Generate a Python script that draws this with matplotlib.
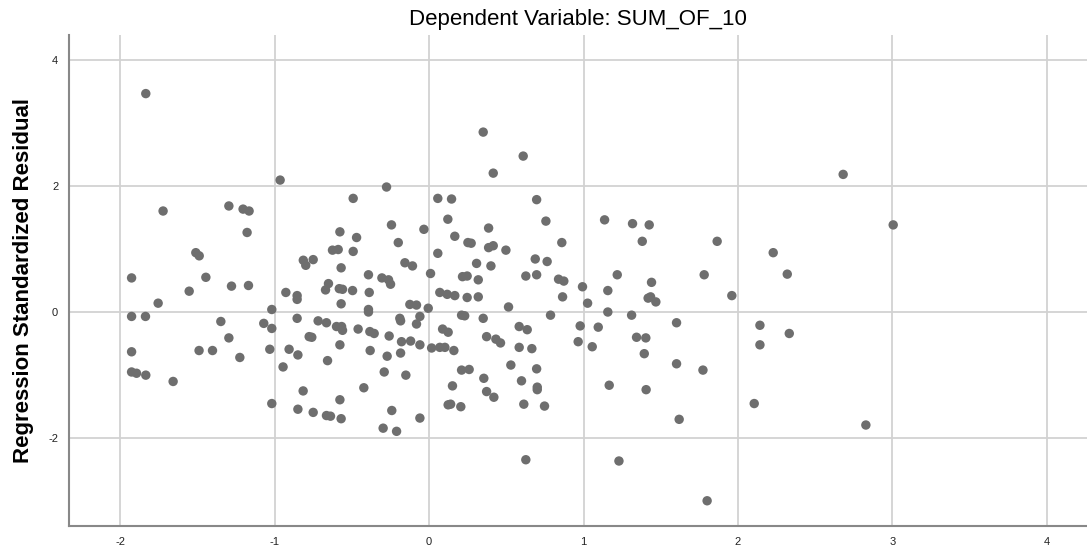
import matplotlib.pyplot as plt

# === Data: predicted (x) vs residual (y) ===
pred_std = [
    -1.835, -0.965, -1.723, -1.297, -1.205, -1.166, -1.179, -1.511, -1.489, -1.927,
    -1.446, -0.815, -0.751, -0.799, -0.626, -0.589, -0.578, -0.570, -1.554, -1.280,
    -1.170, -1.755, -1.927, -1.837, -1.349, -1.297, -1.071, -1.019, -1.019, -0.928,
    -0.855, -0.855, -0.652, -0.671, -0.582, -0.570, -0.855, -0.719, -0.665, -0.600,
    -0.777, -0.578, -1.927, -1.490, -1.403, -1.226, -1.032, -0.907, -0.850, -0.946,
    -0.658, -1.927, -1.895, -1.835, -1.658, -0.816, -1.019, -0.850, -0.751, -0.665,
    -0.639, -0.578, -0.570, -0.561, -0.567, -0.561, -0.760,
    -0.492, -0.276, -0.244, -0.034, -0.470, -0.200, -0.492, -0.157, -0.108, -0.393,
    -0.306, -0.263, -0.250, -0.496, -0.388, -0.393, -0.393, -0.125, -0.082, -0.190,
    -0.060, -0.006, 0.056, 0.145, 0.696, 0.121, 0.756, 1.136, 1.317, 0.385,
    0.166, 0.251, 0.272, 0.385, 0.415, 0.497, 0.859, 1.380, 0.056, 0.687,
    0.764, 0.307, 0.400, 0.009, 0.216, 0.246, 0.318, 0.626, 0.696, 0.838,
    0.872, 1.218, 0.993, 1.157, 0.069, 0.117, 0.166, 0.246, 0.318, 0.864,
    1.026, 0.514, 1.157, 1.311, 0.210, 0.230, 0.350, 0.786, -0.460, -0.384,
    -0.356, -0.259, -0.185, -0.082, -0.382, -0.272, -0.185, -0.179, -0.120, -0.060,
    -0.291, -0.151, -0.423, -0.242, -0.298, -0.211, -0.060, 0.016, 0.069, 0.102,
    0.160, 0.087, 0.123, 0.210, 0.259, 0.151, 0.123, 0.139, 0.205, 0.372,
    0.432, 0.462, 0.354, 0.372, 0.419, 0.529, 0.583, 0.635, 0.583, 0.665,
    0.598, 0.696, 0.700, 0.700, 0.613, 0.747, 0.978, 0.965, 1.095, 1.056,
    1.166, 1.343, 0.626, 0.350, 0.609, 0.415,
    2.681, 1.425, 1.865, 2.228, 1.781, 2.319, 1.440, 1.418, 1.434, 1.468,
    1.960, 1.602, 2.142, 2.332, 1.403, 1.393, 2.142, 1.602, 1.773, 1.405,
    2.105, 1.619, 1.229, 1.800, 3.005, 2.828,
]
resid_std = [
    3.46, 2.09, 1.60, 1.68, 1.63, 1.60, 1.26, 0.94, 0.89, 0.54,
    0.55, 0.82, 0.83, 0.74, 0.98, 0.99, 1.27, 0.70, 0.33, 0.41,
    0.42, 0.14, -0.07, -0.07, -0.15, -0.41, -0.18, -0.26, 0.04, 0.31,
    0.26, 0.20, 0.45, 0.35, 0.37, 0.13, -0.10, -0.14, -0.17, -0.23,
    -0.39, -0.52, -0.63, -0.61, -0.61, -0.72, -0.59, -0.59, -0.68, -0.87,
    -0.77, -0.95, -0.97, -1.00, -1.10, -1.25, -1.45, -1.54, -1.59, -1.64,
    -1.65, -1.39, -1.69, 0.36, -0.23, -0.29, -0.40,
    1.80, 1.98, 1.38, 1.31, 1.18, 1.10, 0.96, 0.78, 0.73, 0.59,
    0.54, 0.51, 0.44, 0.34, 0.31, 0.04, 0.00, 0.12, 0.11, -0.10,
    -0.07, 0.06, 1.80, 1.79, 1.78, 1.47, 1.44, 1.46, 1.40, 1.33,
    1.20, 1.10, 1.09, 1.02, 1.05, 0.98, 1.10, 1.12, 0.93, 0.84,
    0.80, 0.77, 0.73, 0.61, 0.56, 0.57, 0.51, 0.57, 0.59, 0.52,
    0.49, 0.59, 0.40, 0.34, 0.31, 0.28, 0.26, 0.23, 0.24, 0.24,
    0.14, 0.08, 0.00, -0.05, -0.05, -0.06, -0.10, -0.05, -0.27, -0.31,
    -0.34, -0.38, -0.14, -0.19, -0.61, -0.70, -0.65, -0.47, -0.46, -0.52,
    -0.95, -1.00, -1.20, -1.56, -1.84, -1.89, -1.68, -0.57, -0.56, -0.56,
    -0.61, -0.27, -0.32, -0.92, -0.91, -1.17, -1.47, -1.46, -1.50, -0.39,
    -0.43, -0.49, -1.05, -1.26, -1.35, -0.84, -0.23, -0.28, -0.56, -0.58,
    -1.09, -0.90, -1.19, -1.23, -1.46, -1.49, -0.22, -0.47, -0.24, -0.55,
    -1.16, -0.40, -2.34, 2.85, 2.47, 2.20,
    2.18, 1.38, 1.12, 0.94, 0.59, 0.60, 0.47, 0.22, 0.24, 0.16,
    0.26, -0.17, -0.21, -0.34, -0.41, -0.66, -0.52, -0.82, -0.92, -1.23,
    -1.45, -1.70, -2.36, -2.99, 1.38, -1.79,
]
x_ticks = [-2, -1, 0, 1, 2, 3, 4]
y_ticks = [-2, 0, 2, 4]

plt.rcParams['font.family'] = ['Liberation Sans', 'DejaVu Sans']
plt.rcParams['axes.unicode_minus'] = False  # SPSS uses a plain hyphen

fig = plt.figure(figsize=(10.87, 5.5), dpi=100)
ax = fig.add_axes([0.0638, 0.0436, 0.9362, 0.8924])

ax.scatter(pred_std, resid_std, s=46, color='#6e6e6e', edgecolors='none', zorder=3)

ax.set_xlim(-2.33, 4.26)
ax.set_ylim(-3.39, 4.385)
ax.set_xticks(x_ticks)
ax.set_yticks(y_ticks)
ax.tick_params(length=0, labelsize=8, pad=8, colors='#222222')
ax.grid(True, color='#d2d2d2', linewidth=1.3, zorder=0)

for side in ['top', 'right']:
    ax.spines[side].set_visible(False)
for side in ['left', 'bottom']:
    ax.spines[side].set_color('#888888')
    ax.spines[side].set_linewidth(1.5)

ax.set_title('Dependent Variable: SUM_OF_10', fontsize=16, pad=7)
ax.set_ylabel('Regression Standardized Residual', fontsize=16, fontweight='bold', labelpad=10)

fig.savefig('out.png', dpi=100)
